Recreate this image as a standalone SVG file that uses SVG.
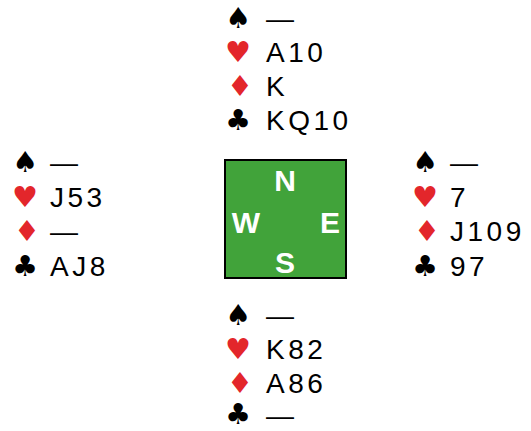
<svg xmlns="http://www.w3.org/2000/svg" width="531" height="431" viewBox="0 0 531 431">
  <style>
    .card { font-family: "Liberation Sans", Arial, sans-serif; font-size: 28px; letter-spacing: 3.5px; fill: #000; }
    .suit { font-family: "DejaVu Sans", sans-serif; font-size: 29px; text-anchor: middle; }
    .blk { fill: #000; }
    .red { fill: #e3262b; }
    .dir { font-family: "Liberation Sans", Arial, sans-serif; font-size: 30px; font-weight: bold; fill: #fff; text-anchor: middle; }
  </style>
  <rect width="531" height="431" fill="#fff"/>

  <g id="north">
    <text class="suit blk" x="238" y="28">♠</text><text class="card" x="266" y="28">—</text>
    <text class="suit red" x="238" y="62">♥</text><text class="card" x="266" y="62">A10</text>
    <text class="suit red" x="240" y="96">♦</text><text class="card" x="266" y="96">K</text>
    <text class="suit blk" x="238" y="130">♣</text><text class="card" x="266" y="130">KQ10</text>
  </g>

  <g id="west">
    <text class="suit blk" x="25" y="172">♠</text><text class="card" x="50" y="172">—</text>
    <text class="suit red" x="25" y="207">♥</text><text class="card" x="50" y="207">J53</text>
    <text class="suit red" x="27" y="241">♦</text><text class="card" x="50" y="241">—</text>
    <text class="suit blk" x="25" y="276">♣</text><text class="card" x="50" y="276">AJ8</text>
  </g>

  <g id="east">
    <text class="suit blk" x="425" y="172">♠</text><text class="card" x="450" y="172">—</text>
    <text class="suit red" x="425" y="207">♥</text><text class="card" x="450" y="207">7</text>
    <text class="suit red" x="427" y="241">♦</text><text class="card" x="450" y="241">J109</text>
    <text class="suit blk" x="425" y="276">♣</text><text class="card" x="450" y="276">97</text>
  </g>

  <g id="south">
    <text class="suit blk" x="238" y="325">♠</text><text class="card" x="266" y="325">—</text>
    <text class="suit red" x="238" y="359">♥</text><text class="card" x="266" y="359">K82</text>
    <text class="suit red" x="240" y="393">♦</text><text class="card" x="266" y="393">A86</text>
    <text class="suit blk" x="238" y="424">♣</text><text class="card" x="266" y="425">—</text>
  </g>

  <g id="compass">
    <rect x="225" y="160" width="121" height="118" fill="#41a33a" stroke="#000" stroke-width="2"/>
    <text class="dir" x="285" y="191">N</text>
    <text class="dir" x="246" y="233">W</text>
    <text class="dir" x="330" y="233">E</text>
    <text class="dir" x="285" y="273">S</text>
  </g>
</svg>
